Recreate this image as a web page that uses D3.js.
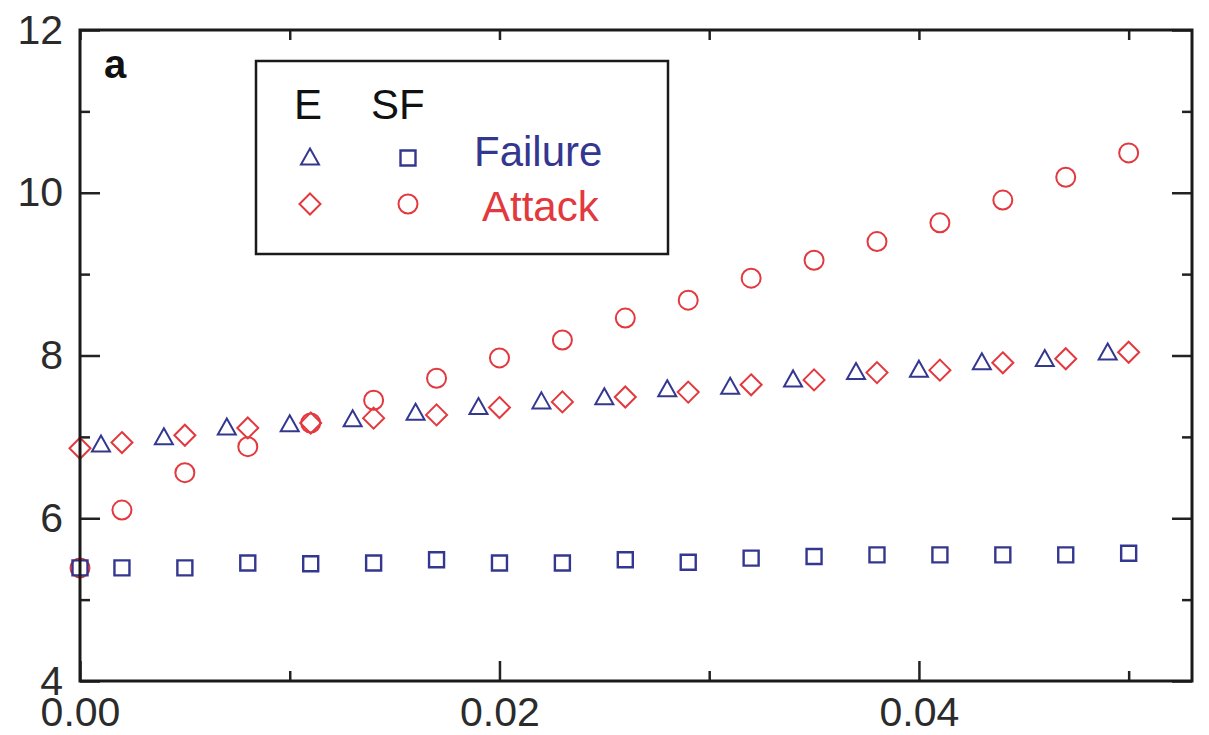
<!DOCTYPE html>
<html>
<head>
<meta charset="utf-8">
<script src="https://cdn.jsdelivr.net/npm/d3@7"></script>
<style>
  body { margin: 0; background: #fff; }
  svg { display: block; }
</style>
</head>
<body>
<div id="chart"></div>
<script>
(function(){
  'use strict';

  // x positions of the E failure points (triangles)
  const failureX = [0.001, 0.004, 0.007, 0.010, 0.013, 0.016, 0.019, 0.022, 0.025,
                    0.028, 0.031, 0.034, 0.037, 0.040, 0.043, 0.046, 0.049];
  const eFailure = [6.90, 6.99, 7.11, 7.15, 7.21, 7.29, 7.36, 7.43, 7.48,
                    7.58, 7.61, 7.70, 7.79, 7.82, 7.91, 7.95, 8.03];

  // x positions shared by diamonds, circles and squares
  const attackX = [0.000, 0.002, 0.005, 0.008, 0.011, 0.014, 0.017, 0.020, 0.023,
                   0.026, 0.029, 0.032, 0.035, 0.038, 0.041, 0.044, 0.047, 0.050];
  const eAttack = [6.86, 6.93, 7.02, 7.11, 7.17, 7.23, 7.27, 7.36, 7.43,
                   7.49, 7.55, 7.64, 7.70, 7.79, 7.82, 7.91, 7.96, 8.04];
  const sfAttack = [5.39, 6.10, 6.56, 6.88, 7.17, 7.45, 7.72, 7.97, 8.19,
                    8.46, 8.68, 8.95, 9.17, 9.40, 9.63, 9.91, 10.19, 10.49];
  const sfFailure = [5.39, 5.39, 5.39, 5.45, 5.44, 5.45, 5.49, 5.45, 5.45,
                     5.49, 5.46, 5.51, 5.53, 5.55, 5.55, 5.55, 5.55, 5.57];

  const xMajor = [0, 0.02, 0.04];
  const xMinor = [0.01, 0.03, 0.05];
  const yMajor = [4, 6, 8, 10, 12];
  const yMinor = [5, 7, 9, 11];

  const BLUE = "#34378f";
  const RED = "#e2383e";
  const FONT = "'Liberation Sans', Arial, Helvetica, sans-serif";

  const width = 1209, height = 735;
  const left = 80, right = 1192, top = 30, bottom = 681;

  const svg = d3.select("#chart").append("svg")
    .attr("width", width)
    .attr("height", height)
    .style("font-family", FONT);

  const x = d3.scaleLinear().domain([0, 0.05302]).range([left, right]);
  const y = d3.scaleLinear().domain([4, 12]).range([bottom, top]);

  // marker shapes (centred on 0,0)
  const shapes = {
    triangle: "M0,-9.5L9,6.5L-9,6.5Z",
    diamond: "M0,-10.5L10.5,0L0,10.5L-10.5,0Z",
    square: "M-7.5,-7.5H7.5V7.5H-7.5Z"
  };

  function drawMarkers(g, xs, ys, type, color) {
    const pts = xs.map(function(d, i){ return {x: d, y: ys[i]}; });
    if (type === "circle") {
      g.selectAll(null).data(pts).enter().append("circle")
        .attr("cx", function(d){ return x(d.x); })
        .attr("cy", function(d){ return y(d.y); })
        .attr("r", 9.5)
        .attr("fill", "none")
        .attr("stroke", color)
        .attr("stroke-width", 2);
    } else {
      g.selectAll(null).data(pts).enter().append("path")
        .attr("d", shapes[type])
        .attr("transform", function(d){ return "translate(" + x(d.x) + "," + y(d.y) + ")"; })
        .attr("fill", "none")
        .attr("stroke", color)
        .attr("stroke-width", type === "square" ? 2.4 : 2);
    }
  }

  //Axes: ticks pointing inward on all four sides
  function styleAxis(g) {
    g.select(".domain").remove();
    g.selectAll(".tick line").attr("stroke", "#222").attr("stroke-width", 2.5);
    g.selectAll(".tick text").attr("fill", "#2b2b2b").style("font-family", FONT);
  }

  svg.append("g")
    .attr("transform", "translate(0," + bottom + ")")
    .call(d3.axisBottom(x).tickValues(xMajor).tickSizeInner(-20).tickSizeOuter(0)
      .tickPadding(16).tickFormat(d3.format(".2f")))
    .call(styleAxis)
    .selectAll("text").attr("font-size", 41);

  svg.append("g")
    .attr("transform", "translate(0," + bottom + ")")
    .call(d3.axisBottom(x).tickValues(xMinor).tickSizeInner(-10).tickSizeOuter(0).tickFormat(""))
    .call(styleAxis);

  svg.append("g")
    .attr("transform", "translate(0," + top + ")")
    .call(d3.axisTop(x).tickValues(xMajor.concat(xMinor)).tickSizeInner(-10).tickSizeOuter(0).tickFormat(""))
    .call(styleAxis);

  svg.append("g")
    .attr("transform", "translate(" + left + ",0)")
    .call(d3.axisLeft(y).tickValues(yMajor).tickSizeInner(-20).tickSizeOuter(0).tickPadding(17))
    .call(styleAxis)
    .selectAll("text").attr("font-size", 41);

  svg.append("g")
    .attr("transform", "translate(" + left + ",0)")
    .call(d3.axisLeft(y).tickValues(yMinor).tickSizeInner(-10).tickSizeOuter(0).tickFormat(""))
    .call(styleAxis);

  svg.append("g")
    .attr("transform", "translate(" + right + ",0)")
    .call(d3.axisRight(y).tickValues(yMajor).tickSizeInner(-20).tickSizeOuter(0).tickFormat(""))
    .call(styleAxis);

  svg.append("g")
    .attr("transform", "translate(" + right + ",0)")
    .call(d3.axisRight(y).tickValues(yMinor).tickSizeInner(-10).tickSizeOuter(0).tickFormat(""))
    .call(styleAxis);

  // data markers
  const marks = svg.append("g");
  drawMarkers(marks, attackX, sfAttack, "circle", RED);
  drawMarkers(marks, attackX, eAttack, "diamond", RED);
  drawMarkers(marks, failureX, eFailure, "triangle", BLUE);
  drawMarkers(marks, attackX, sfFailure, "square", BLUE);

  // frame
  svg.append("rect")
    .attr("x", left).attr("y", top)
    .attr("width", right - left).attr("height", bottom - top)
    .attr("fill", "none")
    .attr("stroke", "#1a1a1a")
    .attr("stroke-width", 3);

  // panel label
  svg.append("text")
    .attr("x", 104).attr("y", 78)
    .attr("font-size", 40)
    .attr("font-weight", "bold")
    .attr("fill", "#111")
    .text("a");

  // legend
  const legend = svg.append("g");
  legend.append("rect")
    .attr("x", 256).attr("y", 61)
    .attr("width", 412).attr("height", 193)
    .attr("fill", "#fff")
    .attr("stroke", "#1a1a1a")
    .attr("stroke-width", 2.5);

  legend.append("text").attr("x", 294).attr("y", 119)
    .attr("font-size", 42).attr("fill", "#111").text("E");
  legend.append("text").attr("x", 371).attr("y", 119)
    .attr("font-size", 42).attr("fill", "#111").text("SF");

  const legendRows = [
    {label: "Failure", color: BLUE, left: "triangle", right: "square", cy: 158, tx: 474, ty: 166},
    {label: "Attack", color: RED, left: "diamond", right: "circle", cy: 204, tx: 482, ty: 221}
  ];

  legendRows.forEach(function(r){
    legend.append("path")
      .attr("d", shapes[r.left])
      .attr("transform", "translate(310," + r.cy + ")")
      .attr("fill", "none").attr("stroke", r.color).attr("stroke-width", 2);
    if (r.right === "circle") {
      legend.append("circle").attr("cx", 408).attr("cy", r.cy).attr("r", 9.5)
        .attr("fill", "none").attr("stroke", r.color).attr("stroke-width", 2);
    } else {
      legend.append("path")
        .attr("d", shapes[r.right])
        .attr("transform", "translate(408," + r.cy + ")")
        .attr("fill", "none").attr("stroke", r.color).attr("stroke-width", 2.4);
    }
    legend.append("text")
      .attr("x", r.tx).attr("y", r.ty)
      .attr("font-size", 42)
      .attr("fill", r.color)
      .text(r.label);
  });

})();
</script>
</body>
</html>
